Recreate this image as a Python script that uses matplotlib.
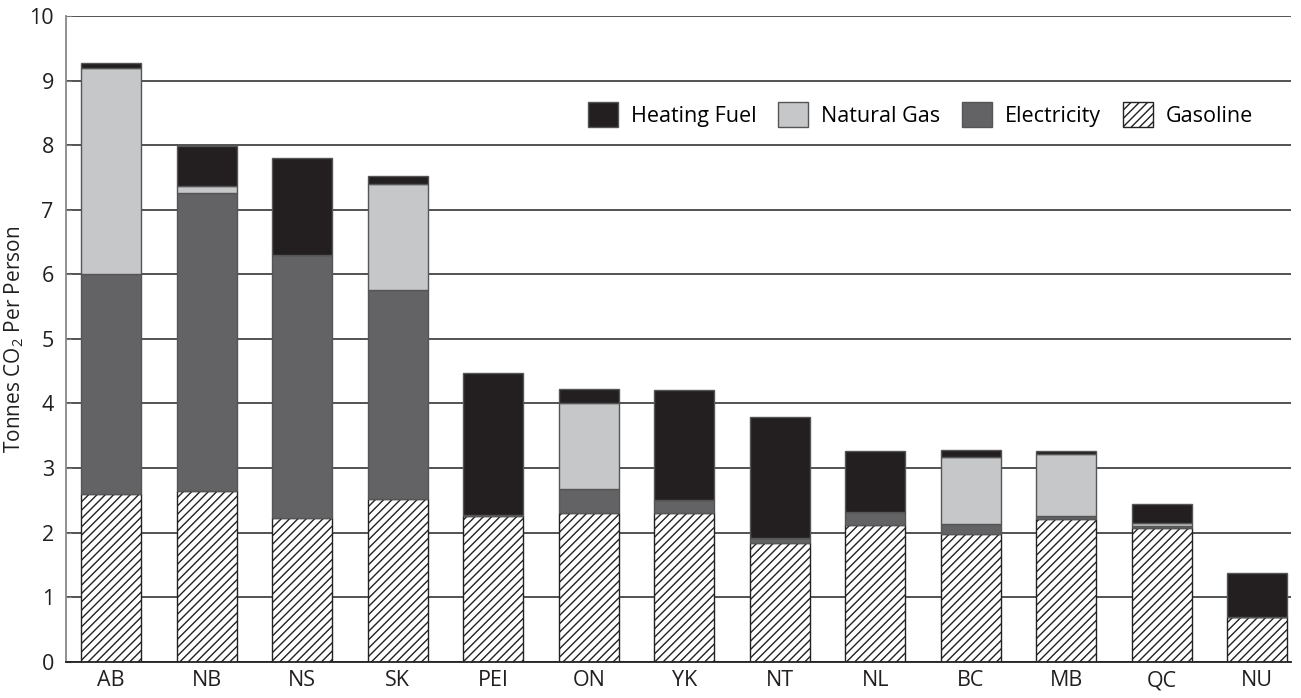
import numpy as np
import matplotlib.pyplot as plt

plt.rcParams['font.family'] = ['Open Sans', 'DejaVu Sans']
plt.rcParams['mathtext.fontset'] = 'custom'
plt.rcParams['mathtext.rm'] = 'Open Sans'
plt.rcParams['hatch.linewidth'] = 1.0

provinces = ['AB', 'NB', 'NS', 'SK', 'PEI', 'ON', 'YK', 'NT', 'NL', 'BC', 'MB', 'QC', 'NU']
gasoline = [2.60, 2.65, 2.23, 2.52, 2.25, 2.30, 2.30, 1.84, 2.11, 1.98, 2.21, 2.07, 0.69]
electricity = [3.40, 4.61, 4.07, 3.24, 0.02, 0.37, 0.20, 0.08, 0.21, 0.16, 0.04, 0.03, 0.01]
natural_gas = [3.20, 0.11, 0.00, 1.64, 0.00, 1.33, 0.00, 0.00, 0.00, 1.03, 0.96, 0.05, 0.00]
heating_fuel = [0.08, 0.62, 1.50, 0.13, 2.20, 0.22, 1.71, 1.87, 0.95, 0.11, 0.05, 0.29, 0.67]

x = np.arange(len(provinces))
w = 0.63
edge = '#555555'
fs = 15.5

fig, ax = plt.subplots(figsize=(13.01, 6.98), dpi=100)
fig.subplots_adjust(left=0.051, right=0.992, top=0.977, bottom=0.052)

ax.set_axisbelow(True)
ax.yaxis.grid(True, color='#444444', linewidth=1.3)

b1 = ax.bar(x, gasoline, w, color='white', edgecolor='#222222', hatch='////',
            linewidth=1.0, label='Gasoline')
bot = np.array(gasoline)
b2 = ax.bar(x, electricity, w, bottom=bot, color='#636365', edgecolor=edge,
            linewidth=1.0, label='Electricity')
bot = bot + np.array(electricity)
b3 = ax.bar(x, natural_gas, w, bottom=bot, color='#c6c7c9', edgecolor=edge,
            linewidth=1.0, label='Natural Gas')
bot = bot + np.array(natural_gas)
b4 = ax.bar(x, heating_fuel, w, bottom=bot, color='#231f20', edgecolor=edge,
            linewidth=1.0, label='Heating Fuel')

ax.set_xlim(-0.47, 12.35)
ax.set_ylim(0, 10)
ax.set_yticks(range(0, 11))
ax.set_xticks(x)
ax.set_xticklabels(provinces)
ax.tick_params(axis='both', labelsize=fs, colors='#231f20')
ax.tick_params(axis='x', length=0, pad=6)
ax.tick_params(axis='y', length=4, direction='in', color='#777777', pad=9)

ax.spines['top'].set_visible(False)
ax.spines['right'].set_visible(False)
ax.spines['left'].set_color('#888888')
ax.spines['left'].set_linewidth(1.3)
ax.spines['bottom'].set_color('#222222')
ax.spines['bottom'].set_linewidth(1.3)

ax.set_ylabel('Tonnes CO$_2$ Per Person', fontsize=15, color='#231f20', labelpad=2)

ax.legend([b4, b3, b2, b1], ['Heating Fuel', 'Natural Gas', 'Electricity', 'Gasoline'],
          loc='center right', bbox_to_anchor=(0.985, 0.847), ncol=4, frameon=False,
          fontsize=15.5, handlelength=1.4, handleheight=1.4, columnspacing=1.0,
          handletextpad=0.6)

fig.savefig('out.png', dpi=100)
